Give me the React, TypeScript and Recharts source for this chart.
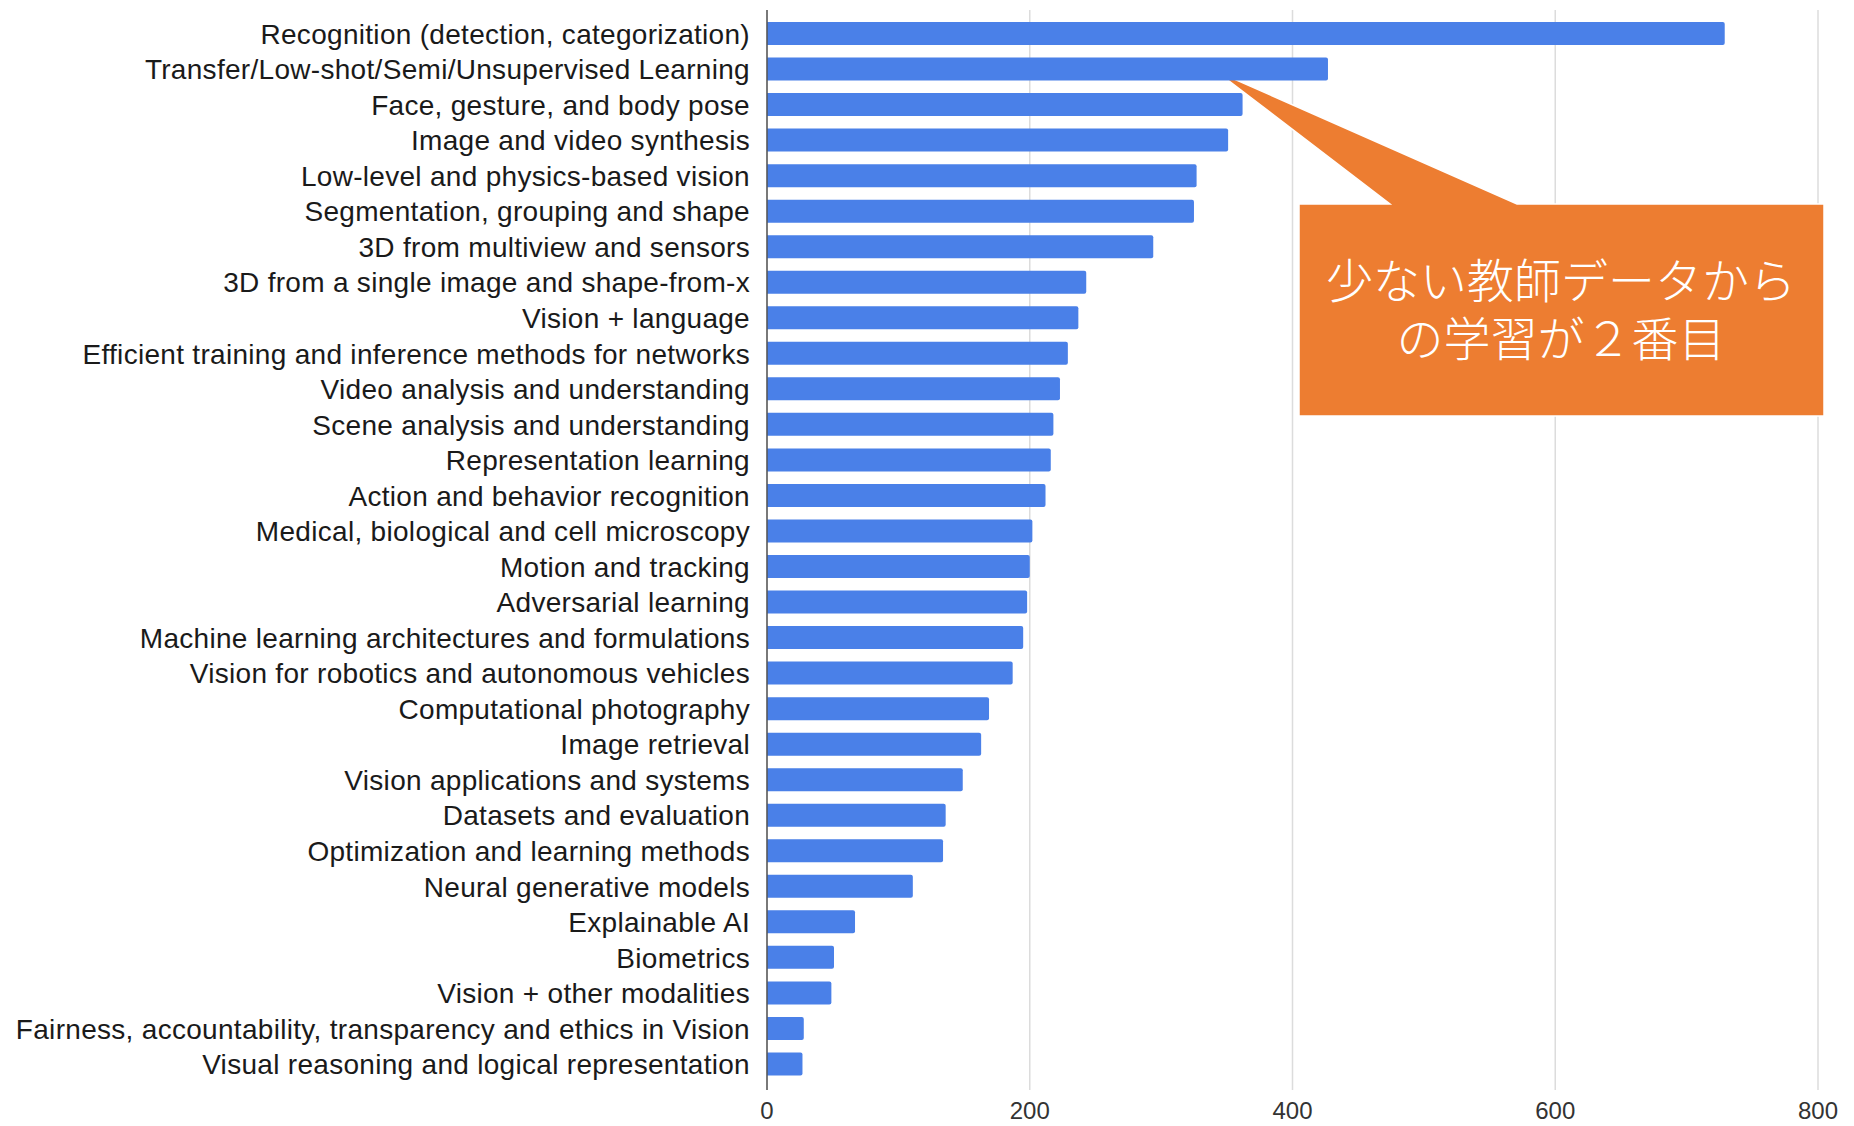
import React from "react";
import { BarChart, Bar, XAxis, YAxis, CartesianGrid, Customized } from "recharts";

// CVPR topic counts
const TOPICS = [
  "Recognition (detection, categorization)",
  "Transfer/Low-shot/Semi/Unsupervised Learning",
  "Face, gesture, and body pose",
  "Image and video synthesis",
  "Low-level and physics-based vision",
  "Segmentation, grouping and shape",
  "3D from multiview and sensors",
  "3D from a single image and shape-from-x",
  "Vision + language",
  "Efficient training and inference methods for networks",
  "Video analysis and understanding",
  "Scene analysis and understanding",
  "Representation learning",
  "Action and behavior recognition",
  "Medical, biological and cell microscopy",
  "Motion and tracking",
  "Adversarial learning",
  "Machine learning architectures and formulations",
  "Vision for robotics and autonomous vehicles",
  "Computational photography",
  "Image retrieval",
  "Vision applications and systems",
  "Datasets and evaluation",
  "Optimization and learning methods",
  "Neural generative models",
  "Explainable AI",
  "Biometrics",
  "Vision + other modalities",
  "Fairness, accountability, transparency and ethics in Vision",
  "Visual reasoning and logical representation",
];

const COUNTS = [
  729, 427, 362, 351, 327, 325, 294, 243, 237, 229,
  223, 218, 216, 212, 202, 200, 198, 195, 187, 169,
  163, 149, 136, 134, 111, 67, 51, 49, 28, 27,
];

const X_TICKS = [0, 200, 400, 600, 800];

const CALLOUT_LINES = ["少ない教師データから", "の学習が２番目"];

const BAR_COLOR = "#4a80e8";
const CALLOUT_COLOR = "#ED7D31";

const data = TOPICS.map((name, i) => ({ name, value: COUNTS[i] }));

// Orange speech-bubble pointing at the 2nd bar
function Callout() {
  const path =
    "M1299,204 L1390,204 L1216,71 L1517,204 L1824,204 L1824,416 L1299,416 Z";
  return (
    <g>
      <path d={path} fill={CALLOUT_COLOR} stroke="#ffffff" strokeWidth={1.5} />
      <text
        x={1561}
        y={277}
        textAnchor="middle"
        dominantBaseline="central"
        fill="#ffffff"
        fontSize={47}
        fontWeight={300}
        fontFamily='"Noto Sans CJK JP", sans-serif'
      >
        {CALLOUT_LINES.map((line, i) => (
          <tspan key={i} x={1561} dy={i === 0 ? 0 : 58}>
            {line}
          </tspan>
        ))}
      </text>
    </g>
  );
}

export default function App() {
  return (
    <div style={{ position: "absolute", left: 0, top: 0, background: "#fff" }}>
      <BarChart
        width={1854}
        height={1126}
        data={data}
        layout="vertical"
        margin={{ top: 10, right: 36, bottom: 0, left: 0 }}
        barCategoryGap={0}
      >
        <CartesianGrid horizontal={false} stroke="#dcdcdc" strokeWidth={1.5} />
        <XAxis
          type="number"
          domain={[0, 800]}
          ticks={X_TICKS}
          axisLine={false}
          tickLine={false}
          tickSize={0}
          tickMargin={12}
          height={36}
          tick={{ fontSize: 24, fill: "#333", fontFamily: '"Liberation Sans", Arial, sans-serif' }}
        />
        <YAxis
          type="category"
          dataKey="name"
          width={767}
          interval={0}
          tickLine={false}
          tickSize={0}
          tickMargin={17}
          axisLine={{ stroke: "#555", strokeWidth: 1.5 }}
          padding={{ top: 6, bottom: 8 }}
          tick={{
            fontSize: 28,
            fill: "#1a1a1a",
            letterSpacing: 0.3,
            fontFamily: '"Liberation Sans", Arial, sans-serif',
          }}
        />
        <Bar
          dataKey="value"
          fill={BAR_COLOR}
          barSize={23}
          radius={[0, 2, 2, 0]}
          isAnimationActive={false}
        />
        <Customized component={Callout} />
      </BarChart>
    </div>
  );
}
